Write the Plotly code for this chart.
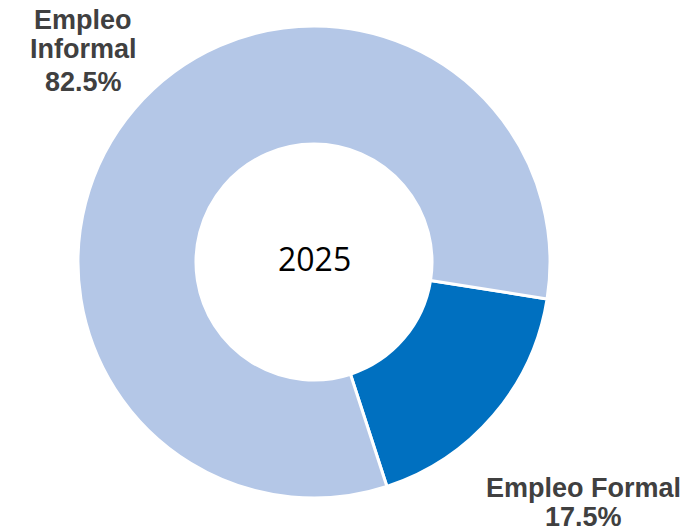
import plotly.graph_objects as go

labels = ["Empleo Formal", "Empleo Informal"]
values = [17.5, 82.5]
colors = ["#0070C0", "#B4C7E7"]
center_text = "2025"
label_lines = {
    "Empleo Informal": ["Empleo", "Informal", "82.5%"],
    "Empleo Formal": ["Empleo Formal", "17.5%"],
}

W, H = 700, 531
cx, cy, r = 314, 262, 236

fig = go.Figure(go.Pie(
    labels=labels, values=values, hole=0.5, sort=False,
    direction="clockwise", rotation=99,
    marker=dict(colors=colors, line=dict(color="white", width=3)),
    textinfo="none", hoverinfo="label+percent", showlegend=False,
    domain=dict(x=[(cx - r) / W, (cx + r) / W], y=[(H - cy - r) / H, (H - cy + r) / H]),
))

ann = []
def add(text, x, y, size=27, bold=True, color="#404040", family="Liberation Sans, Arial, sans-serif"):
    ann.append(dict(text=f"<b>{text}</b>" if bold else text, x=x / W, y=1 - y / H,
                    xref="paper", yref="paper", xanchor="center", yanchor="middle",
                    showarrow=False, font=dict(size=size, color=color, family=family)))

for t, yy in zip(label_lines["Empleo Informal"], [19.5, 49, 82]):
    add(t, 83, yy)
for t, yy in zip(label_lines["Empleo Formal"], [488, 517]):
    add(t, 583, yy)
add(center_text, cx, 258, size=32, bold=False, color="black", family="Open Sans, sans-serif")

fig.update_layout(width=W, height=H, margin=dict(l=0, r=0, t=0, b=0),
                  paper_bgcolor="white", plot_bgcolor="white", annotations=ann)
fig.write_html("out.html", config={"displayModeBar": False},
               post_script="document.body.style.margin='0';document.body.style.overflow='hidden';")
